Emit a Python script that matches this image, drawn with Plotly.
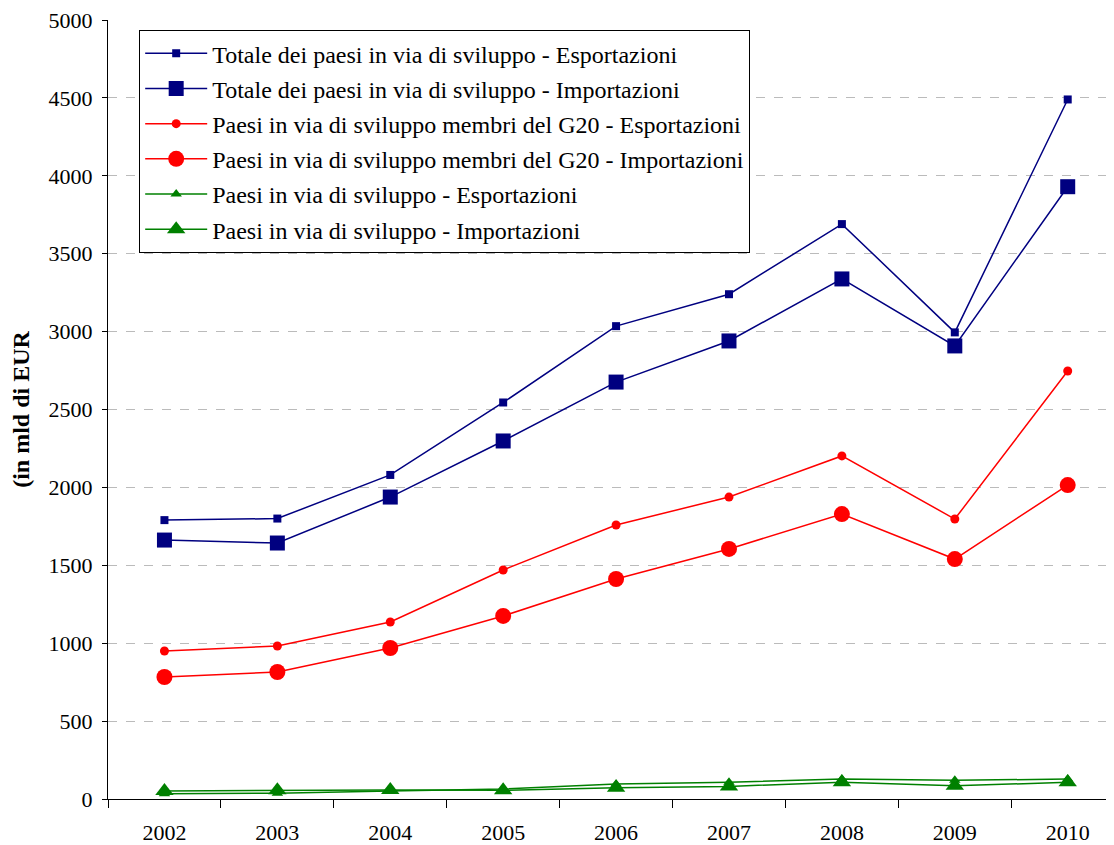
import plotly.graph_objects as go

years = ["2002", "2003", "2004", "2005", "2006", "2007", "2008", "2009", "2010"]
tot_exp = [1790, 1800, 2080, 2545, 3035, 3240, 3690, 2995, 4490]
tot_imp = [1662, 1643, 1938, 2298, 2676, 2940, 3338, 2908, 3930]
g20_exp = [950, 982, 1136, 1470, 1759, 1938, 2202, 1797, 2747]
g20_imp = [783, 815, 969, 1175, 1412, 1605, 1829, 1540, 2015]
dev_exp = [34, 37, 52, 64, 96, 107, 128, 120, 128]
dev_imp = [51, 56, 58, 56, 73, 81, 107, 85, 107]

names = [
    "Totale dei paesi in via di sviluppo - Esportazioni",
    "Totale dei paesi in via di sviluppo - Importazioni",
    "Paesi in via di sviluppo membri del G20 - Esportazioni",
    "Paesi in via di sviluppo membri del G20 - Importazioni",
    "Paesi in via di sviluppo - Esportazioni",
    "Paesi in via di sviluppo - Importazioni",
]
series = [tot_exp, tot_imp, g20_exp, g20_imp, dev_exp, dev_imp]
colors = ["#000080", "#000080", "#FF0000", "#FF0000", "#008000", "#008000"]
symbols = ["square", "square", "circle", "circle", "triangle-up", "triangle-up"]
sizes = [8, 15, 9, 16, 10, 16]

fig = go.Figure()
for i in range(6):
    fig.add_trace(go.Scatter(
        x=years, y=series[i], name=names[i], mode="lines+markers",
        line=dict(color=colors[i], width=1.5),
        marker=dict(symbol=symbols[i], size=sizes[i], color=colors[i]),
        legendgroup=str(i),
    ))

font = "Liberation Serif, Times New Roman, serif"
fig.update_layout(
    width=1106, height=837,
    margin=dict(l=100, r=0, t=12, b=46),
    plot_bgcolor="white", paper_bgcolor="white",
    font=dict(family=font, size=22, color="black"),
    showlegend=True,
    legend=dict(
        x=0.031, y=0.987, xanchor="left", yanchor="top",
        bordercolor="black", borderwidth=1, bgcolor="white",
        font=dict(family=font, size=24), tracegroupgap=1, itemwidth=62,
    ),
    xaxis=dict(
        type="category", range=[-0.5, 8.41], automargin=False,
        showline=True, linecolor="black", linewidth=1,
        ticks="outside", tickson="boundaries", ticklen=8, tickcolor="black",
        ticklabelstandoff=14, ticklabeloverflow="allow",
        showgrid=False, tickfont=dict(family=font, size=22),
    ),
    yaxis=dict(
        range=[0, 5000], dtick=500, automargin=False,
        showline=True, linecolor="black", linewidth=1,
        ticks="outside", ticklen=5, tickcolor="black", ticklabelstandoff=5,
        ticklabeloverflow="allow",
        showgrid=True, gridcolor="#BBBBBB", griddash="dash", gridwidth=1,
        zeroline=False, tickfont=dict(family=font, size=22),
        title=dict(text="<b>(in mld di EUR</b>", font=dict(family=font, size=24), standoff=21),
    ),
)
fig.write_html("out.html")
